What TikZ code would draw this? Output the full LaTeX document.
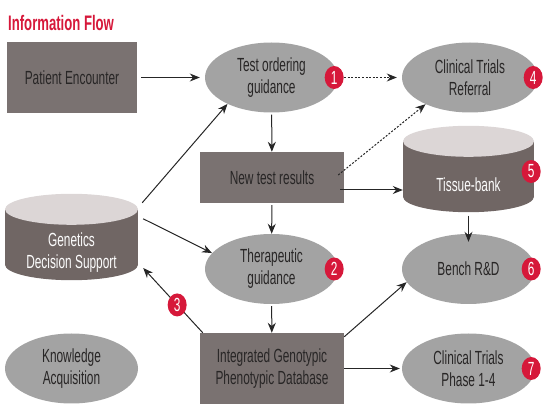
\documentclass[tikz,border=0pt]{standalone}
\usepackage{fontspec}
\setmainfont{Liberation Sans}[FakeStretch=0.625]
\usetikzlibrary{arrows.meta,shapes.geometric,backgrounds}
\definecolor{flowred} {RGB}{214,24,58}
\definecolor{boxgray} {RGB}{122,114,113}
\definecolor{ovalgray}{RGB}{163,163,163}
\definecolor{dbbody}  {RGB}{112,102,100}
\definecolor{dbtop}   {RGB}{220,214,214}
\definecolor{ink}     {RGB}{40,38,38}

\begin{document}
\begin{tikzpicture}[x=1pt,y=-1pt,
          every node/.style={font=\fontsize{19}{22}\selectfont,text=ink,align=center,inner sep=0pt},
          box/.style={rectangle,fill=boxgray,minimum width=144,minimum height=71},
          oval/.style={ellipse,fill=ovalgray,minimum width=133,minimum height=70},
          db/.style={rectangle,text=white!92!dbtop,minimum width=133,minimum height=55},
          badge/.style={ellipse,fill=flowred,text=white,minimum width=19,minimum height=23},
          flow/.style={-{Stealth[length=10pt,width=8pt]},line width=1pt,draw=black!85},
          maybe/.style={flow,dash pattern=on 2pt off 1.6pt}
      ]
        \useasboundingbox (0,0) rectangle (550,414);
        \node[anchor=west,text=flowred,font=\fontsize{21}{21}\selectfont\bfseries] (title) at (8,23) {Information Flow};
        \node[box,minimum width=130] (pe)  at (72,77.5)    {Patient Encounter};
        \node[oval]                  (tog) at (271.5,77.5) {Test ordering\\guidance};
        \node[oval,minimum width=136](ctr) at (470,77.5)   {Clinical Trials\\Referral};
        \node[box,minimum height=51] (ntr) at (272,177.5)  {New test results};
        \node[db,minimum width=131]  (tbk) at (468.5,184.5){Tissue-bank};
        \node[db]                    (gds) at (71.5,252.5) {Genetics\\Decision Support};
        \node[oval]                  (tpg) at (271.5,269)  {Therapeutic\\guidance};
        \node[oval]                  (bnd) at (468.5,269)  {Bench R\&D};
        \node[box]                   (idb) at (272,368.5)  {Integrated Genotypic\\Phenotypic Database};
        \node[oval]                  (ct)  at (468.5,368.5){Clinical Trials\\Phase 1-4};
        \node[oval]                  (ka)  at (71.5,368.5) {Knowledge\\Acquisition};
        \begin{scope}[on background layer]
          \foreach \c/\r in {tbk/65.5,gds/66.5}{
            \fill[dbbody] ([yshift=15.5]\c.north west) rectangle ([yshift=15.5]\c.south east);
            \fill[dbbody] ([yshift=15.5]\c.south) ellipse[x radius=\r,y radius=15.5];
            \fill[dbtop]  ([yshift=15.5]\c.north) ellipse[x radius=\r,y radius=15.5];
          }
        \end{scope}
        \node[badge] (b1) at ([xshift=-4]tog.east) {1};
        \node[badge] (b2) at ([xshift=-4]tpg.east) {2};
        \node[badge] (b4) at ([xshift=-5]ctr.east) {4};
        \node[badge] (b5) at ([shift={(-3,-13)}]tbk.east) {5};
        \node[badge] (b6) at ([xshift=-4]bnd.east) {6};
        \node[badge] (b7) at ([xshift=-4]ct.east)  {7};
        \draw[flow,shorten <=4pt,shorten >=5pt] (pe) -- (tog);
        \draw[maybe,shorten >=5pt] (b1) -- (ctr);
        \draw[flow,shorten <=2pt] (tog) -- (ntr);
        \draw[maybe] ([shift={(-6,-2.5)}]ntr.east) -- (ctr.211);
        \draw[flow] ([shift={(-4,12.5)}]ntr.east) -- ([yshift=-5.5]tbk.west);
        \draw[flow,shorten <=2pt] (ntr) -- (tpg);
        \draw[flow] ([shift={(4,-22)}]gds.north east) -- (tog.211);
        \draw[flow] ([shift={(5,-6)}]gds.north east) -- (tpg.165);
        \draw[flow,shorten <=2pt] (tpg) -- (idb);
        \draw[flow] ([xshift=3]idb.north west) -- node[badge,pos=0.43] (b3) {3} ([shift={(5,15.5)}]gds.east);
        \draw[flow] ([yshift=-4]idb.north east) -- (bnd.192);
        \draw[flow,shorten >=2pt] (idb) -- (ct);
        \draw[flow] ([yshift=-3.5]tbk.south) -- ([yshift=-8]bnd.north);
      \end{tikzpicture}
\end{document}
